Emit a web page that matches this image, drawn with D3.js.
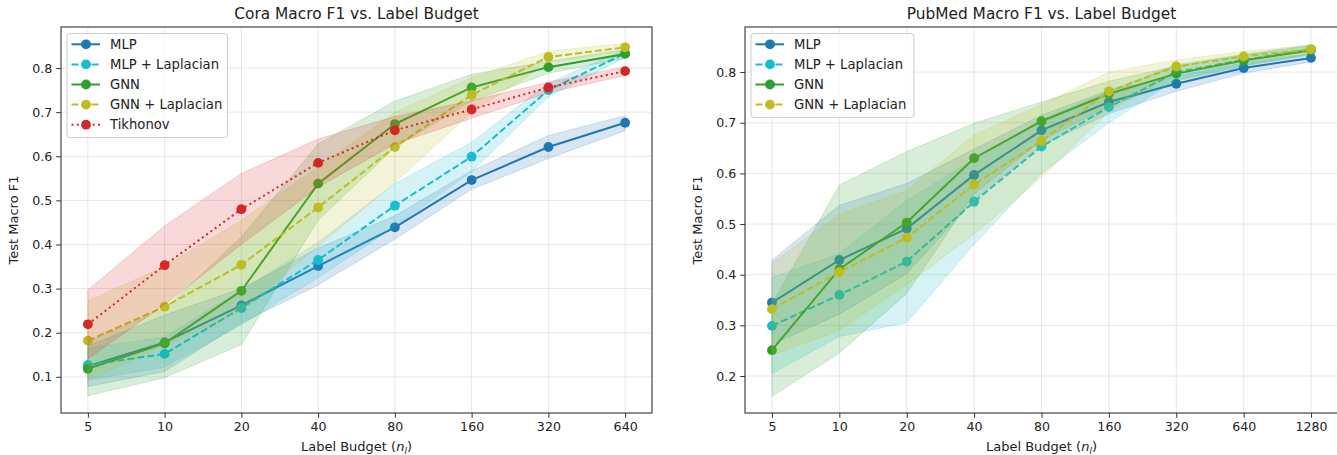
<!DOCTYPE html>
<html>
<head>
<meta charset="utf-8">
<script src="https://cdn.jsdelivr.net/npm/d3@7"></script>
<style>
  body { margin: 0; background: #fff; }
  text { font-family: "DejaVu Sans", sans-serif; fill: #222; }
</style>
</head>
<body>
<svg id="fig" width="1337" height="455"></svg>
<script>
// ---- data ----
var budgetsCora = [5, 10, 20, 40, 80, 160, 320, 640];
var budgetsPubmed = [5, 10, 20, 40, 80, 160, 320, 640, 1280];

var seriesNames = ["MLP", "MLP + Laplacian", "GNN", "GNN + Laplacian", "Tikhonov"];

// Cora
var coraMlp     = [0.124, 0.178, 0.262, 0.351, 0.439, 0.546, 0.621, 0.676];
var coraMlpLo   = [0.078, 0.112, 0.222, 0.308, 0.412, 0.525, 0.595, 0.658];
var coraMlpHi   = [0.170, 0.240, 0.300, 0.392, 0.465, 0.567, 0.647, 0.692];
var coraMlpLap   = [0.127, 0.152, 0.256, 0.365, 0.488, 0.599, 0.750, 0.833];
var coraMlpLapLo = [0.092, 0.122, 0.218, 0.325, 0.440, 0.565, 0.735, 0.824];
var coraMlpLapHi = [0.165, 0.190, 0.296, 0.405, 0.538, 0.632, 0.766, 0.842];
var coraGnn     = [0.118, 0.176, 0.295, 0.538, 0.673, 0.756, 0.802, 0.832];
var coraGnnLo   = [0.057, 0.098, 0.173, 0.455, 0.620, 0.725, 0.788, 0.822];
var coraGnnHi   = [0.180, 0.254, 0.417, 0.628, 0.725, 0.786, 0.815, 0.842];
var coraGnnLap   = [0.182, 0.259, 0.354, 0.484, 0.621, 0.739, 0.825, 0.847];
var coraGnnLapLo = [0.092, 0.170, 0.250, 0.395, 0.540, 0.700, 0.812, 0.838];
var coraGnnLapHi = [0.272, 0.350, 0.455, 0.575, 0.700, 0.778, 0.838, 0.856];
var coraTik     = [0.219, 0.353, 0.480, 0.585, 0.659, 0.706, 0.756, 0.793];
var coraTikLo   = [0.141, 0.264, 0.400, 0.530, 0.628, 0.686, 0.744, 0.783];
var coraTikHi   = [0.297, 0.442, 0.561, 0.639, 0.690, 0.726, 0.768, 0.803];

// PubMed
var pubMlp     = [0.345, 0.429, 0.491, 0.597, 0.685, 0.741, 0.777, 0.808, 0.828];
var pubMlpLo   = [0.262, 0.322, 0.402, 0.548, 0.655, 0.718, 0.762, 0.798, 0.820];
var pubMlpHi   = [0.429, 0.537, 0.580, 0.648, 0.715, 0.764, 0.792, 0.818, 0.836];
var pubMlpLap   = [0.299, 0.360, 0.426, 0.544, 0.653, 0.731, 0.800, 0.824, 0.845];
var pubMlpLapLo = [0.205, 0.278, 0.305, 0.460, 0.600, 0.700, 0.785, 0.813, 0.836];
var pubMlpLapHi = [0.394, 0.442, 0.547, 0.628, 0.706, 0.762, 0.815, 0.835, 0.854];
var pubGnn     = [0.251, 0.411, 0.503, 0.630, 0.703, 0.757, 0.797, 0.823, 0.843];
var pubGnnLo   = [0.160, 0.245, 0.363, 0.560, 0.665, 0.732, 0.782, 0.812, 0.834];
var pubGnnHi   = [0.342, 0.577, 0.643, 0.699, 0.741, 0.782, 0.812, 0.834, 0.852];
var pubGnnLap   = [0.332, 0.405, 0.473, 0.578, 0.664, 0.762, 0.811, 0.831, 0.845];
var pubGnnLapLo = [0.241, 0.290, 0.380, 0.480, 0.592, 0.722, 0.798, 0.821, 0.837];
var pubGnnLapHi = [0.423, 0.520, 0.566, 0.676, 0.736, 0.800, 0.824, 0.841, 0.853];

var coraYTicks = [0.1, 0.2, 0.3, 0.4, 0.5, 0.6, 0.7, 0.8];
var pubYTicks = [0.2, 0.3, 0.4, 0.5, 0.6, 0.7, 0.8];

// styles
var colors = ["#1f77b4", "#17becf", "#2ca02c", "#bcbd22", "#d62728"];
var dashes = [null, "7,3", null, "7,3", "2,3.3"];

var svg = d3.select("#fig");
svg.append("rect").attr("width", 1337).attr("height", 455).attr("fill", "#fff");

function drawPanel(opt) {
  var g = svg.append("g");
  var x0 = opt.left, x1 = opt.right, y0 = 27, y1 = 413;
  var xs = opt.budgets;
  var pad = 0.05 * Math.log2(xs[xs.length - 1] / xs[0]);
  var x = d3.scaleLog().base(2)
      .domain([xs[0] * Math.pow(2, -pad), xs[xs.length - 1] * Math.pow(2, pad)])
      .range([x0, x1]);
  var y = d3.scaleLinear().domain(opt.ydomain).range([y1, y0]);

  // grid
  g.append("g").selectAll("line").data(xs).enter().append("line")
    .attr("x1", d => x(d)).attr("x2", d => x(d)).attr("y1", y0).attr("y2", y1)
    .attr("stroke", "#b0b0b0").attr("stroke-opacity", 0.3).attr("stroke-width", 1);
  g.append("g").selectAll("line").data(opt.yticks).enter().append("line")
    .attr("x1", x0).attr("x2", x1).attr("y1", d => y(d)).attr("y2", d => y(d))
    .attr("stroke", "#b0b0b0").attr("stroke-opacity", 0.3).attr("stroke-width", 1);

  var clip = "clip" + opt.id;
  g.append("clipPath").attr("id", clip).append("rect")
    .attr("x", x0).attr("y", y0).attr("width", x1 - x0).attr("height", y1 - y0);
  var plot = g.append("g").attr("clip-path", "url(#" + clip + ")");

  opt.series.forEach(function (s, k) {
    var c = colors[s.ci];
    var area = d3.area().x((d, i) => x(xs[i])).y0((d, i) => y(s.lo[i])).y1((d, i) => y(s.hi[i]));
    plot.append("path").datum(s.mean).attr("d", area)
      .attr("fill", c).attr("fill-opacity", 0.18)
      .attr("stroke", c).attr("stroke-opacity", 0.18).attr("stroke-width", 1);
    var line = d3.line().x((d, i) => x(xs[i])).y(d => y(d));
    plot.append("path").datum(s.mean).attr("d", line)
      .attr("fill", "none").attr("stroke", c).attr("stroke-width", 2)
      .attr("stroke-dasharray", dashes[s.ci]);
    plot.append("g").selectAll("circle").data(s.mean).enter().append("circle")
      .attr("cx", (d, i) => x(xs[i])).attr("cy", d => y(d)).attr("r", 4.9)
      .attr("fill", c);
  });

  // axes
  var xAxis = d3.axisBottom(x).tickValues(xs).tickFormat(d3.format("d")).tickSize(4.8).tickPadding(4);
  var gx = g.append("g").attr("transform", "translate(0," + y1 + ")").call(xAxis);
  var yAxis = d3.axisLeft(y).tickValues(opt.yticks).tickFormat(d3.format(".1f")).tickSize(4.8).tickPadding(4);
  var gy = g.append("g").attr("transform", "translate(" + x0 + ",0)").call(yAxis);
  [gx, gy].forEach(function (a) {
    a.select(".domain").remove();
    a.selectAll(".tick line").attr("stroke", "#333").attr("stroke-width", 1);
    a.selectAll(".tick text").attr("font-size", 12.6).style("fill", "#222");
  });
  g.append("rect").attr("x", x0).attr("y", y0).attr("width", x1 - x0).attr("height", y1 - y0)
    .attr("fill", "none").attr("stroke", "#333").attr("stroke-width", 1.1);

  // titles and labels
  g.append("text").attr("x", (x0 + x1) / 2).attr("y", 19).attr("text-anchor", "middle")
    .attr("font-size", 15.4).text(opt.title);
  var xl = g.append("text").attr("x", (x0 + x1) / 2).attr("y", 451).attr("text-anchor", "middle")
    .attr("font-size", 13);
  xl.append("tspan").text("Label Budget (");
  xl.append("tspan").attr("font-style", "italic").text("n");
  xl.append("tspan").attr("font-style", "italic").attr("font-size", 9).attr("dy", 2.5).text("l");
  xl.append("tspan").attr("dy", -2.5).text(")");
  g.append("text").attr("transform", "translate(" + (x0 - 43) + "," + ((y0 + y1) / 2) + ") rotate(-90)")
    .attr("text-anchor", "middle").attr("font-size", 13).text("Test Macro F1");

  // legend
  var lx = x0 + 6, ly = 33.5, rowH = 20.1, n = opt.series.length;
  var lg = g.append("g");
  lg.append("rect").attr("x", lx).attr("y", ly).attr("width", opt.legendW).attr("height", n * rowH + 3.5)
    .attr("rx", 3).attr("fill", "#fff").attr("fill-opacity", 0.8)
    .attr("stroke", "#ccc").attr("stroke-width", 1);
  opt.series.forEach(function (s, k) {
    var c = colors[s.ci], yy = ly + 10.8 + k * rowH;
    lg.append("line").attr("x1", lx + 4.5).attr("x2", lx + 33).attr("y1", yy).attr("y2", yy)
      .attr("stroke", c).attr("stroke-width", 2).attr("stroke-dasharray", dashes[s.ci]);
    lg.append("circle").attr("cx", lx + 19).attr("cy", yy).attr("r", 4.9).attr("fill", c);
    lg.append("text").attr("x", lx + 43).attr("y", yy + 4.6).attr("font-size", 13.2).text(seriesNames[s.ci]);
  });
}

drawPanel({
  id: "cora", left: 61, right: 652, budgets: budgetsCora,
  ydomain: [0.018, 0.893], yticks: coraYTicks, legendW: 160.5,
  title: "Cora Macro F1 vs. Label Budget",
  series: [
    { ci: 0, mean: coraMlp, lo: coraMlpLo, hi: coraMlpHi },
    { ci: 1, mean: coraMlpLap, lo: coraMlpLapLo, hi: coraMlpLapHi },
    { ci: 2, mean: coraGnn, lo: coraGnnLo, hi: coraGnnHi },
    { ci: 3, mean: coraGnnLap, lo: coraGnnLapLo, hi: coraGnnLapHi },
    { ci: 4, mean: coraTik, lo: coraTikLo, hi: coraTikHi }
  ]
});

drawPanel({
  id: "pub", left: 745, right: 1338, budgets: budgetsPubmed,
  ydomain: [0.127, 0.889], yticks: pubYTicks, legendW: 163,
  title: "PubMed Macro F1 vs. Label Budget",
  series: [
    { ci: 0, mean: pubMlp, lo: pubMlpLo, hi: pubMlpHi },
    { ci: 1, mean: pubMlpLap, lo: pubMlpLapLo, hi: pubMlpLapHi },
    { ci: 2, mean: pubGnn, lo: pubGnnLo, hi: pubGnnHi },
    { ci: 3, mean: pubGnnLap, lo: pubGnnLapLo, hi: pubGnnLapHi }
  ]
});
</script>
</body>
</html>
